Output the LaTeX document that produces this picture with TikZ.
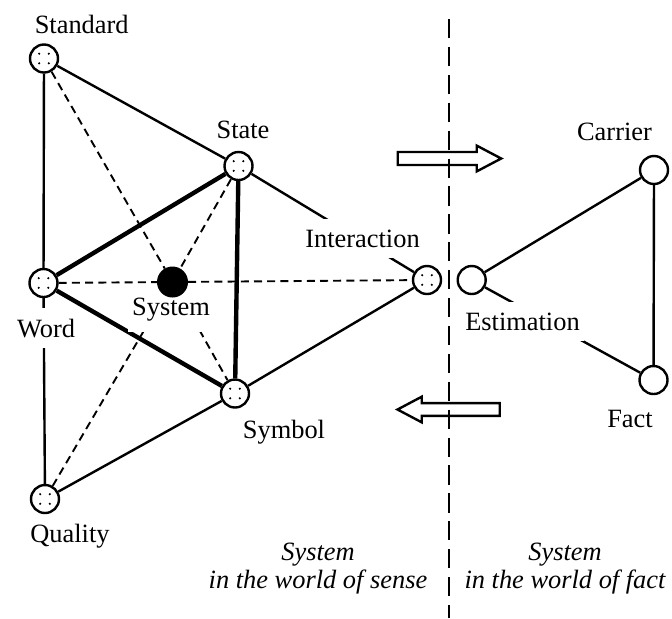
\documentclass[tikz,border=0pt]{standalone}
\usepackage{fontspec}
\setmainfont{Liberation Serif}
\pgfdeclarelayer{edges}
\pgfdeclarelayer{labels}
\pgfsetlayers{edges,labels,main}
\tikzset{
  dotc/.style={circle,draw,line width=1.2pt,fill=white,minimum size=14pt,inner sep=0pt,
    path picture={
      \fill[black] (path picture bounding box.center) ++(-2.4pt,2.4pt) circle[radius=0.6pt];
      \fill[black] (path picture bounding box.center) ++(2.4pt,2.4pt) circle[radius=0.6pt];
      \fill[black] (path picture bounding box.center) ++(-2.4pt,-2.4pt) circle[radius=0.6pt];
      \fill[black] (path picture bounding box.center) ++(2.4pt,-2.4pt) circle[radius=0.6pt];
    }},
  plainc/.style={circle,draw,line width=1.2pt,fill=white,minimum size=14pt,inner sep=0pt},
  sysc/.style={circle,draw,fill=black,line width=1pt,minimum size=14.5pt,inner sep=0pt},
  lbl/.style={anchor=base,inner sep=0pt},
  cover/.style={anchor=base,fill=white,inner xsep=2pt,inner ysep=5.5pt},
  edge/.style={line width=1.2pt},
  bold/.style={line width=2.2pt},
  dsh/.style={line width=0.95pt,dash pattern=on 4pt off 2.6pt},
  divider/.style={line width=1.2pt,dash pattern=on 9.6pt off 4.35pt},
  bigarrow/.style={draw,line width=1.2pt,fill=white,line join=miter},
  note/.style={anchor=base,inner sep=0pt,font=\fontsize{13.2}{15.8}\selectfont\itshape}
}
\begin{document}
\begin{tikzpicture}[x=0.5pt,y=-0.5pt,font=\fontsize{13.2}{15.8}\selectfont]
\useasboundingbox (0,0) rectangle (672,618);

% nodes
\node[dotc] (std) at (44,58.5) {};
\node[dotc] (state) at (238.5,166) {};
\node[dotc] (word) at (43.5,283) {};
\node[sysc] (sys) at (172.5,282) {};
\node[dotc] (sym) at (235,393.5) {};
\node[dotc] (qual) at (45,499) {};
\node[dotc] (inter) at (427,280) {};
\node[plainc] (est) at (471.7,280) {};
\node[plainc] (car) at (654,170) {};
\node[plainc] (fact) at (653.5,380) {};

% edges
\begin{pgfonlayer}{edges}
\draw[edge] (std) -- (word);
\draw[edge] (word) -- (qual);
\draw[edge] (std) -- (state);
\draw[edge] (state) -- (inter);
\draw[edge] (qual) -- (sym);
\draw[edge] (sym) -- (inter);
\draw[edge] (est) -- (car);
\draw[edge] (est) -- (fact);
\draw[edge] (car) -- (fact);
\draw[bold] (word) -- (state);
\draw[bold] (word) -- (sym);
\draw[bold] (state) -- (sym);
\draw[dsh] (std) -- (sys);
\draw[dsh] (state) -- (sys);
\draw[dsh] (word) -- (sys);
\draw[dsh] (sys) -- (inter);
\draw[dsh] (sys) -- (sym);
\draw[dsh] (qual) -- (sys);
\end{pgfonlayer}

% labels
\begin{pgfonlayer}{labels}
\node[lbl] (lstd) at (81.7,33) {Standard};
\node[lbl] (lstate) at (243,138) {State};
\node[cover] (lsys) at (171,315) {System};
\node[cover] (lword) at (46,337) {Word};
\node[lbl] (lsym) at (284,438) {Symbol};
\node[lbl] (lqual) at (70,542) {Quality};
\node[cover] (linter) at (362.5,247) {Interaction};
\node[cover] (lest) at (522.5,330) {Estimation};
\node[lbl] (lcar) at (614.5,140) {Carrier};
\node[lbl] (lfact) at (630,427) {Fact};
\node[note] (s1) at (318,560) {System};
\node[note] (s2) at (318,588) {in the world of sense};
\node[note] (f1) at (565,560) {System};
\node[note] (f2) at (565,588) {in the world of fact};
\end{pgfonlayer}

% big arrows
\coordinate (ta) at (397.7,158.5);
\draw[bigarrow] (ta) ++(0,-6.5) -- ++(79,0) -- ++(0,-6.4) -- ++(24.5,12.9)
  -- ++(-24.5,12.9) -- ++(0,-6.4) -- ++(-79,0) -- cycle;
\coordinate (ba) at (397.5,409.5);
\draw[bigarrow] (ba) -- ++(24.2,-12.8) -- ++(0,6.4) -- ++(78,0) -- ++(0,12.8)
  -- ++(-78,0) -- ++(0,6.4) -- cycle;

% divider
\coordinate (dtop) at (449,19);
\coordinate (dbot) at (449,618);
\draw[divider] (dtop) -- (dbot);
\end{tikzpicture}
\end{document}
